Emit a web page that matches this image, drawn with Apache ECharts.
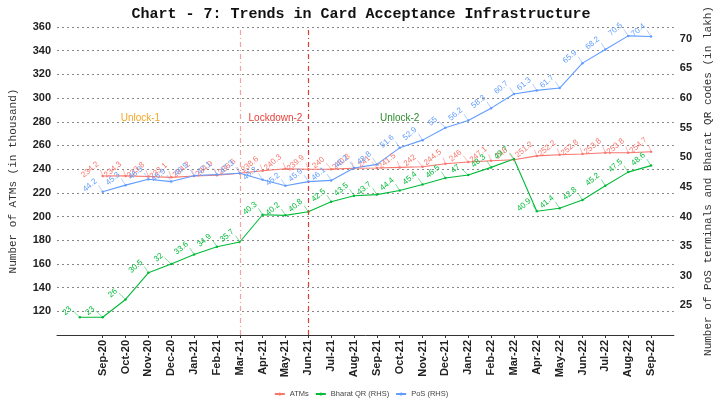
<!DOCTYPE html>
<html>
<head>
<meta charset="utf-8">
<script src="https://cdn.jsdelivr.net/npm/echarts@6/dist/echarts.min.js"></script>
<style>
  html, body { margin: 0; padding: 0; background: #fff; }
  #chart { width: 722px; height: 406px; }
</style>
</head>
<body>
<div id="chart"></div>
<script>
var myChart = echarts.init(document.getElementById('chart'));

// months of the data, Aug-20 .. Sep-22
var months = ['Aug-20','Sep-20','Oct-20','Nov-20','Dec-20','Jan-21','Feb-21','Mar-21','Apr-21','May-21',
  'Jun-21','Jul-21','Aug-21','Sep-21','Oct-21','Nov-21','Dec-21','Jan-22','Feb-22','Mar-22','Apr-22',
  'May-22','Jun-22','Jul-22','Aug-22','Sep-22'];

// ATMs (thousand), Sep-20 .. Sep-22
var atms = [234.2,234.3,233.8,233.1,234.2,234.9,236.6,238.6,240.3,239.9,240,240.8,241,241.5,242,
  244.5,246,247.1,248,251.2,252.2,252.8,253.8,253.8,254.7];
// PoS (lakh), Sep-20 .. Sep-22
var pos = [44.2,45.3,46.3,45.9,46.9,47.1,47.3,46.2,45.2,45.9,46.1,48.2,48.8,51.6,52.9,55,56.2,58.3,
  60.7,61.3,61.7,65.9,68.2,70.5,70.4];
// Bharat QR (lakh), Aug-20 .. Sep-22
var bharatQr = [23,23,26,30.5,32,33.6,34.9,35.7,40.3,40.2,40.8,42.5,43.5,43.7,44.4,45.4,46.5,47,48.3,
  49.7,40.9,41.4,42.8,45.2,47.5,48.6];

var phases = [
  {text: 'Unlock-1', at: 'Nov-20', y: 283, color: '#F5A623', dx: -8},
  {text: 'Lockdown-2', at: 'May-21', y: 283, color: '#E8413B', dx: -10},
  {text: 'Unlock-2', at: 'Oct-21', y: 283, color: '#2E8B2E', dx: 0}
];

// one empty slot either side so the axis runs past the data like the original
var cats = [' '].concat(months).concat(['  ']);
var atmsData = [null, null].concat(atms).concat([null]);
var posData = [null, null].concat(pos).concat([null]);
var qrData = [null].concat(bharatQr).concat([null]);

function showTick(idx) { return idx >= 2 && idx <= 26; }

function lineSeries(name, data, color, axis) {
  return {
    name: name,
    type: 'line',
    yAxisIndex: axis,
    data: data,
    color: color,
    symbol: 'circle',
    symbolSize: 2.5,
    lineStyle: {width: 1.1, color: color},
    label: {
      show: true,
      rotate: 40,
      fontSize: 8,
      fontFamily: 'Liberation Sans',
      color: color,
      position: 'top',
      distance: 4
    },
    labelLine: {show: true, lineStyle: {width: 0.5, color: color}},
    labelLayout: {dx: -9, dy: -5, hideOverlap: false},
    z: 3
  };
}

var red = lineSeries('ATMs', atmsData, '#F8766D', 0);
red.markLine = {
  silent: true,
  symbol: 'none',
  label: {show: false},
  data: [
    {xAxis: 'Mar-21', lineStyle: {color: '#F4A3A0', type: [5, 3, 1, 3], width: 1.2}},
    {xAxis: 'Jun-21', lineStyle: {color: '#E03A35', type: [5, 3, 1, 3], width: 1.2}}
  ]
};
var green = lineSeries('Bharat QR (RHS)', qrData, '#00BA38', 1);
green.markPoint = {
  symbol: 'circle',
  symbolSize: 0,
  data: phases.map(function (p) {
    return {
      coord: [p.at, p.y / 5],
      label: {show: true, formatter: p.text, color: p.color, fontSize: 10,
        fontFamily: 'Liberation Sans', offset: [p.dx, 0]}
    };
  })
};
var blue = lineSeries('PoS (RHS)', posData, '#619CFF', 1);

option = {
  animation: false,
  backgroundColor: '#fff',
  title: {
    text: 'Chart - 7: Trends in Card Acceptance Infrastructure',
    left: 'center',
    top: 2,
    textStyle: {fontFamily: 'Liberation Mono', fontWeight: 'bold', fontSize: 15, color: '#111'}
  },
  legend: {
    bottom: 3,
    left: 'center',
    itemWidth: 10,
    itemHeight: 4,
    itemGap: 6,
    textStyle: {fontSize: 7.5, color: '#444', fontFamily: 'Liberation Sans'},
    data: ['ATMs', 'Bharat QR (RHS)', 'PoS (RHS)']
  },
  grid: {left: 56, right: 46, top: 27, bottom: 71},
  xAxis: {
    type: 'category',
    data: cats,
    boundaryGap: false,
    axisLine: {lineStyle: {color: '#333', width: 1}},
    axisTick: {interval: showTick, length: 3, lineStyle: {color: '#333'}},
    axisLabel: {interval: showTick, rotate: 90, fontSize: 11, fontWeight: 'bold',
      color: '#222', fontFamily: 'Liberation Sans', margin: 5},
    splitLine: {show: false}
  },
  yAxis: [
    {
      type: 'value',
      min: 100,
      max: 360,
      interval: 20,
      name: 'Number of ATMs (in thousand)',
      nameLocation: 'middle',
      nameGap: 38,
      nameTextStyle: {fontFamily: 'Liberation Mono', fontSize: 11, color: '#333'},
      axisLine: {show: false},
      axisTick: {show: false},
      axisLabel: {showMinLabel: false, fontSize: 11, fontWeight: 'bold', color: '#222',
        fontFamily: 'Liberation Sans', margin: 6},
      splitLine: {lineStyle: {color: '#888', type: [2, 3], width: 1}}
    },
    {
      type: 'value',
      min: 20,
      max: 72,
      interval: 5,
      name: 'Number of PoS terminals and Bharat QR codes (in lakh)',
      nameLocation: 'middle',
      nameGap: 26,
      nameRotate: 90,
      nameTextStyle: {fontFamily: 'Liberation Mono', fontSize: 11, color: '#333'},
      axisLine: {show: false},
      axisTick: {show: false},
      axisLabel: {showMinLabel: false, showMaxLabel: false, fontSize: 11, fontWeight: 'bold',
        color: '#222', fontFamily: 'Liberation Sans', margin: 6},
      splitLine: {show: false}
    }
  ],
  series: [red, green, blue]
};

myChart.setOption(option, true);
</script>
</body>
</html>
